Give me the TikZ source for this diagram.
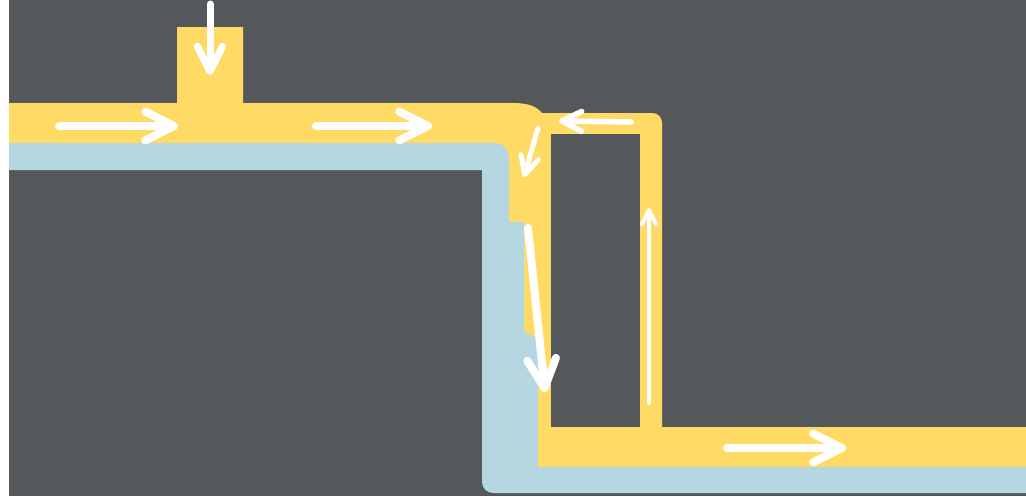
\documentclass[tikz,border=0pt]{standalone}
\usetikzlibrary{arrows.meta}
\definecolor{bg}{HTML}{55585B}
\definecolor{flow}{HTML}{FFDB66}
\definecolor{soil}{HTML}{B4D7E1}
\tikzset{
  flowarrow/.style={draw=white, line width=#1, line cap=round,
    -{Straight Barb[round, length=#1*3.6, width=#1*3.6]}},
  flowarrow/.default=8pt
}
\begin{document}
\begin{tikzpicture}[x=1pt,y=-1pt]
\useasboundingbox (0,0) rectangle (1026,496);
\fill[white] (0,0) rectangle (1026,496);
\fill[bg] (9,0) rectangle (1026,496);
% yellow channel
\fill[flow] (9,103) -- (177,103) -- (177,27) -- (243,27) -- (243,103) -- (512,103)
  .. controls (530,103) and (537,107) .. (542,113) -- (652,113)
  .. controls (658,113) and (662,117) .. (662,123) -- (662,427) -- (1026,427)
  -- (1026,467) -- (490,467) -- (490,143) -- (9,143) -- cycle;
% inner dark loop
\fill[bg] (551,134) rectangle (640,427);
% blue layer
\fill[soil] (9,143) -- (494,143) .. controls (503,143) and (509,149) .. (509,158)
  -- (509,222) -- (524,222) -- (524,333)
  .. controls (532,333) and (538,338) .. (538,346)
  -- (538,467) -- (1026,467) -- (1026,493) -- (493,493)
  .. controls (487,493) and (482,488) .. (482,482) -- (482,170) -- (9,170) -- cycle;
% arrows
\coordinate (a1s) at (59,126);  \coordinate (a1e) at (178,126);
\coordinate (a2s) at (316,126); \coordinate (a2e) at (432,126);
\coordinate (a3s) at (210,4);   \coordinate (a3e) at (210,75);
\coordinate (a4s) at (631,122); \coordinate (a4e) at (559,121);
\coordinate (a5s) at (538,128); \coordinate (a5e) at (524,177);
\coordinate (a6s) at (528,228); \coordinate (a6e) at (545,392);
\coordinate (a7s) at (649,403); \coordinate (a7e) at (649,208);
\coordinate (a8s) at (727,448); \coordinate (a8e) at (846,448);
\draw[flowarrow] (a1s) -- (a1e);
\draw[flowarrow] (a2s) -- (a2e);
\draw[flowarrow=7pt] (a3s) -- (a3e);
\draw[flowarrow=5.5pt] (a4s) -- (a4e);
\draw[flowarrow=5pt] (a5s) -- (a5e);
\draw[flowarrow] (a6s) -- (a6e);
\draw[flowarrow=4pt] (a7s) -- (a7e);
\draw[flowarrow] (a8s) -- (a8e);
\end{tikzpicture}
\end{document}
